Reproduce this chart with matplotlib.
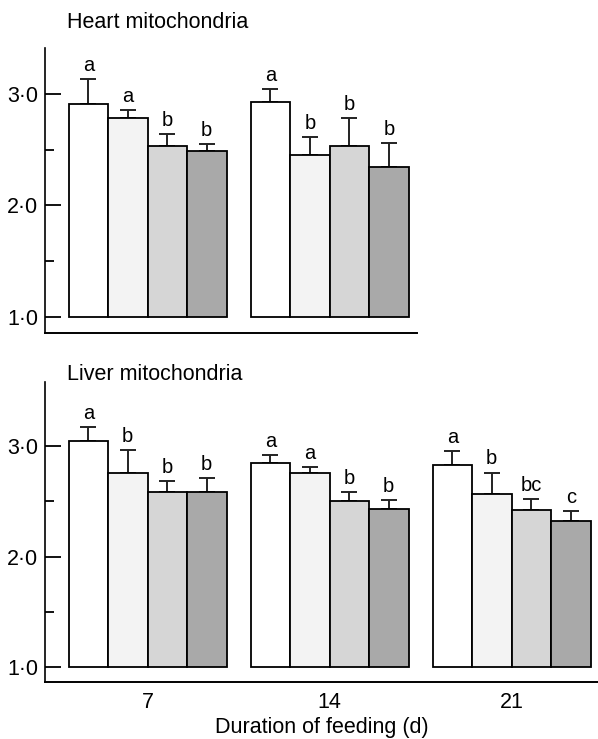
import matplotlib
matplotlib.use("Agg")
import matplotlib.pyplot as plt
from matplotlib.ticker import FixedLocator
import numpy as np

plt.rcParams['font.family'] = ['Liberation Sans', 'DejaVu Sans']

days = ["7", "14", "21"]
yticks = [1.0, 2.0, 3.0]
ytick_labels = ["1\u00b70", "2\u00b70", "3\u00b70"]

# Heart mitochondria (days 7 and 14 only); one list per diet group
heart_means = [[2.91, 2.78, 2.53, 2.49],
               [2.93, 2.45, 2.53, 2.34]]
heart_err = [[0.22, 0.07, 0.11, 0.06],
             [0.11, 0.16, 0.25, 0.22]]
heart_letters = [["a", "a", "b", "b"],
                 ["a", "b", "b", "b"]]

# Liver mitochondria (days 7, 14, 21)
liver_means = [[3.045, 2.76, 2.58, 2.58],
               [2.85, 2.76, 2.505, 2.43],
               [2.83, 2.57, 2.42, 2.32]]
liver_err = [[0.125, 0.20, 0.10, 0.13],
             [0.07, 0.05, 0.075, 0.08],
             [0.125, 0.19, 0.10, 0.09]]
liver_letters = [["a", "b", "b", "b"],
                 ["a", "a", "b", "b"],
                 ["a", "b", "bc", "c"]]

fills = ["#ffffff", "#f3f3f3", "#d6d6d6", "#a9a9a9"]
bw = 0.217
offsets = (np.arange(4) - 1.5) * bw

fig = plt.figure(figsize=(5.98, 7.39), dpi=100)
ax1 = fig.add_axes([0.0753, 0.5494, 0.6220, 0.3856])
ax2 = fig.add_axes([0.0753, 0.0771, 0.9247, 0.4060])


def draw(ax, means, errs, letters):
    for g, (m, e, lt) in enumerate(zip(means, errs, letters)):
        for i in range(4):
            x = g + offsets[i]
            ax.bar(x, m[i] - 1.0, bottom=1.0, width=bw, color=fills[i],
                   edgecolor="black", linewidth=1.3, zorder=2)
            ax.errorbar(x, m[i], yerr=[[0], [e[i]]], fmt="none",
                        ecolor="#222222", elinewidth=1.4, capsize=5.8,
                        capthick=1.4, zorder=1)
            ax.annotate(lt[i], (x, m[i] + e[i]), xytext=(0, 3),
                        textcoords="offset points", ha="center",
                        va="bottom", fontsize=14.5)
    for s in ["top", "right"]:
        ax.spines[s].set_visible(False)
    ax.spines["left"].set_linewidth(1.2)
    ax.spines["bottom"].set_linewidth(1.4)
    ax.yaxis.set_major_locator(FixedLocator(yticks))
    ax.set_yticklabels(ytick_labels, fontsize=15.5)
    ax.yaxis.set_minor_locator(FixedLocator([1.5, 2.5]))
    ax.tick_params(axis="y", which="major", direction="in", length=11.5,
                   width=1.3, pad=5)
    ax.tick_params(axis="y", which="minor", direction="in", length=6.5,
                   width=1.3)
    ax.tick_params(axis="x", length=0)


draw(ax1, heart_means, heart_err, heart_letters)
ax1.set_xlim(-0.563, 1.48)
ax1.set_ylim(0.855, 3.41)
ax1.set_xticks([])
fig.text(0.112, 0.9689, "Heart mitochondria", fontsize=15.5,
         ha="left", va="center")

draw(ax2, liver_means, liver_err, liver_letters)
ax2.set_xlim(-0.563, 2.475)
ax2.set_ylim(0.864, 3.58)
ax2.set_xticks(range(len(days)))
ax2.set_xticklabels(days, fontsize=15.5)
ax2.tick_params(axis="x", pad=7)
ax2.set_xlabel("Duration of feeding (d)", fontsize=15.5, labelpad=3)
fig.text(0.112, 0.4926, "Liver mitochondria", fontsize=15.5,
         ha="left", va="center")

fig.savefig("out.png", dpi=100)
